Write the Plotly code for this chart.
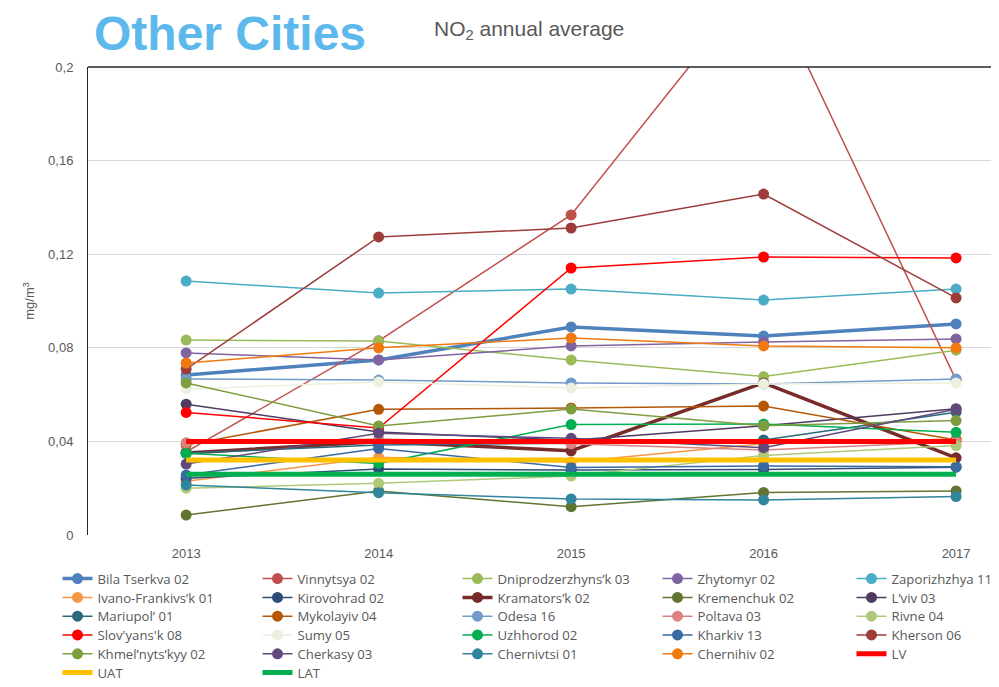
import plotly.graph_objects as go

years = [2013, 2014, 2015, 2016, 2017]

bila_tserkva = [0.0684, 0.0748, 0.0889, 0.0850, 0.0902]
vinnytsya = [0.0355, 0.0830, 0.1368, 0.2400, 0.0662]
dniprodzerzhynsk = [0.0833, 0.0829, 0.0748, 0.0677, 0.0790]
zhytomyr = [0.0778, 0.0748, 0.0808, 0.0825, 0.0838]
zaporizhzhya = [0.1085, 0.1034, 0.1051, 0.1004, 0.1051]
ivano_frankivsk = [0.0230, 0.0332, 0.0312, 0.0390, 0.0410]
kirovohrad = [0.0242, 0.0282, 0.0278, 0.0280, 0.0290]
kramatorsk = [0.0350, 0.0399, 0.0360, 0.0650, 0.0330]
kremenchuk = [0.0085, 0.0188, 0.0121, 0.0182, 0.0188]
lviv = [0.0559, 0.0440, 0.0405, 0.0467, 0.0540]
mariupol = [0.0350, 0.0385, 0.0392, 0.0406, 0.0525]
mykolayiv = [0.0385, 0.0537, 0.0543, 0.0551, 0.0406]
odesa = [0.0667, 0.0662, 0.0650, 0.0645, 0.0667]
poltava = [0.0394, 0.0410, 0.0390, 0.0363, 0.0399]
rivne = [0.0200, 0.0221, 0.0252, 0.0340, 0.0382]
slovyansk = [0.0524, 0.0457, 0.1141, 0.1188, 0.1184]
sumy = [0.0624, 0.0654, 0.0628, 0.0645, 0.0650]
uzhhorod = [0.0349, 0.0306, 0.0472, 0.0474, 0.0439]
kharkiv = [0.0256, 0.0370, 0.0288, 0.0295, 0.0292]
kherson = [0.0709, 0.1274, 0.1312, 0.1457, 0.1013]
khmelnytskyy = [0.0650, 0.0466, 0.0538, 0.0467, 0.0489]
cherkasy = [0.0303, 0.0435, 0.0413, 0.0373, 0.0537]
chernivtsi = [0.0214, 0.0181, 0.0154, 0.0150, 0.0164]
chernihiv = [0.0735, 0.0800, 0.0842, 0.0808, 0.0800]
lv = [0.04, 0.04, 0.04, 0.04, 0.04]
uat = [0.032, 0.032, 0.032, 0.032, 0.032]
lat = [0.026, 0.026, 0.026, 0.026, 0.026]

y_ticks = [0, 0.04, 0.08, 0.12, 0.16, 0.2]
y_tick_labels = ["0", "0,04", "0,08", "0,12", "0,16", "0,2"]

# (name, values, colour, line width, markers)
series = [
    ("Bila Tserkva 02", bila_tserkva, "#4F81BD", 3.5, True),
    ("Vinnytsya 02", vinnytsya, "#C0504D", 1.5, True),
    ("Dniprodzerzhyns\u2019k 03", dniprodzerzhynsk, "#9BBB59", 1.5, True),
    ("Zhytomyr 02", zhytomyr, "#8064A2", 1.5, True),
    ("Zaporizhzhya 11", zaporizhzhya, "#4BACC6", 1.5, True),
    ("Ivano-Frankivs\u2019k 01", ivano_frankivsk, "#F79646", 1.5, True),
    ("Kirovohrad 02", kirovohrad, "#2C4D75", 1.5, True),
    ("Kramators\u2019k 02", kramatorsk, "#772C2A", 3.5, True),
    ("Kremenchuk 02", kremenchuk, "#5F7530", 1.5, True),
    ("L\u2019viv 03", lviv, "#4D3B62", 1.5, True),
    ("Mariupol\u2019 01", mariupol, "#276A7C", 1.5, True),
    ("Mykolayiv 04", mykolayiv, "#B65708", 1.5, True),
    ("Odesa 16", odesa, "#729ACA", 1.5, True),
    ("Poltava 03", poltava, "#D9827F", 1.5, True),
    ("Rivne 04", rivne, "#AFC97A", 1.5, True),
    ("Slov'yans'k 08", slovyansk, "#FF0000", 1.5, True),
    ("Sumy 05", sumy, "#EBF1DE", 1.5, True),
    ("Uzhhorod 02", uzhhorod, "#00B050", 1.5, True),
    ("Kharkiv 13", kharkiv, "#3A6AA2", 1.5, True),
    ("Kherson 06", kherson, "#9C3D3A", 1.5, True),
    ("Khmel\u2019nyts\u2019kyy 02", khmelnytskyy, "#7E9D3E", 1.5, True),
    ("Cherkasy 03", cherkasy, "#604A7B", 1.5, True),
    ("Chernivtsi 01", chernivtsi, "#31859C", 1.5, True),
    ("Chernihiv 02", chernihiv, "#F07A10", 1.5, True),
    ("LV", lv, "#FF0000", 5, False),
    ("UAT", uat, "#FFC000", 5, False),
    ("LAT", lat, "#00B050", 5, False),
]

grey = "#595959"
# page body has an 8px margin, so the figure is laid out 8px up/left
L, T, B, W = 80, 59, 160, 911
plot_bottom = 687 - B
plot_h = 687 - T - B

fig = go.Figure()
legends = {}
for i, (name, vals, color, width, markers) in enumerate(series):
    key = "legend" if i == 0 else f"legend{i + 1}"
    fig.add_trace(go.Scatter(
        x=years, y=vals, name=name,
        mode="lines+markers" if markers else "lines",
        line=dict(color=color, width=width),
        marker=dict(size=11, color=color),
        legend=key,
    ))
    row, col = divmod(i, 5)
    x_screen = 57.5 + 200 * col - (6 if col == 4 else 0)
    y_screen = 579 + 18.8 * row
    legends[key] = dict(
        orientation="v", x=(x_screen - 8 - L) / W, xanchor="left",
        y=(plot_bottom - (y_screen - 8)) / plot_h, yanchor="middle",
        font=dict(size=13.2, color=grey, family="Open Sans"), itemwidth=30,
        bgcolor="rgba(0,0,0,0)", borderwidth=0,
    )

fig.update_layout(
    width=999, height=687,
    margin=dict(l=L, r=8, t=T, b=B, autoexpand=False),
    paper_bgcolor="white", plot_bgcolor="white",
    font=dict(family="Liberation Sans", color=grey, size=13),
    showlegend=True,
    xaxis=dict(
        range=[2012.49, 2017.223], tickvals=years, ticktext=[str(y) for y in years],
        showgrid=False, zeroline=False, showline=False,
        tickfont=dict(size=13, color=grey), ticks="", ticklabelstandoff=9,
    ),
    yaxis=dict(
        range=[0, 0.2], tickvals=y_ticks, ticktext=y_tick_labels,
        showgrid=True, gridcolor="#D9D9D9", gridwidth=1, zeroline=False,
        showline=True, linecolor="#262626", linewidth=1,
        tickfont=dict(size=13, color=grey), ticklabelstandoff=11,
        title=dict(text="mg/m<sup>3</sup>", font=dict(size=13, color=grey), standoff=10),
    ),
    shapes=[dict(type="line", xref="paper", yref="paper", x0=0, x1=1, y0=1, y1=1,
                 line=dict(color="#262626", width=1.5))],
    annotations=[
        dict(text="<b>Other Cities</b>", xref="paper", yref="paper",
             x=(92 - 8 - L) / W, y=(plot_bottom - (33 - 8)) / plot_h,
             xanchor="left", yanchor="middle", showarrow=False,
             font=dict(family="Liberation Sans", size=48, color="#5DB9EC")),
        dict(text="NO<sub>2</sub> annual average", xref="paper", yref="paper",
             x=(432 - 8 - L) / W, y=(plot_bottom - (30 - 8)) / plot_h,
             xanchor="left", yanchor="middle",
             showarrow=False, font=dict(family="Liberation Sans", size=21, color=grey)),
    ],
    **legends,
)

fig.write_html("out.html")
